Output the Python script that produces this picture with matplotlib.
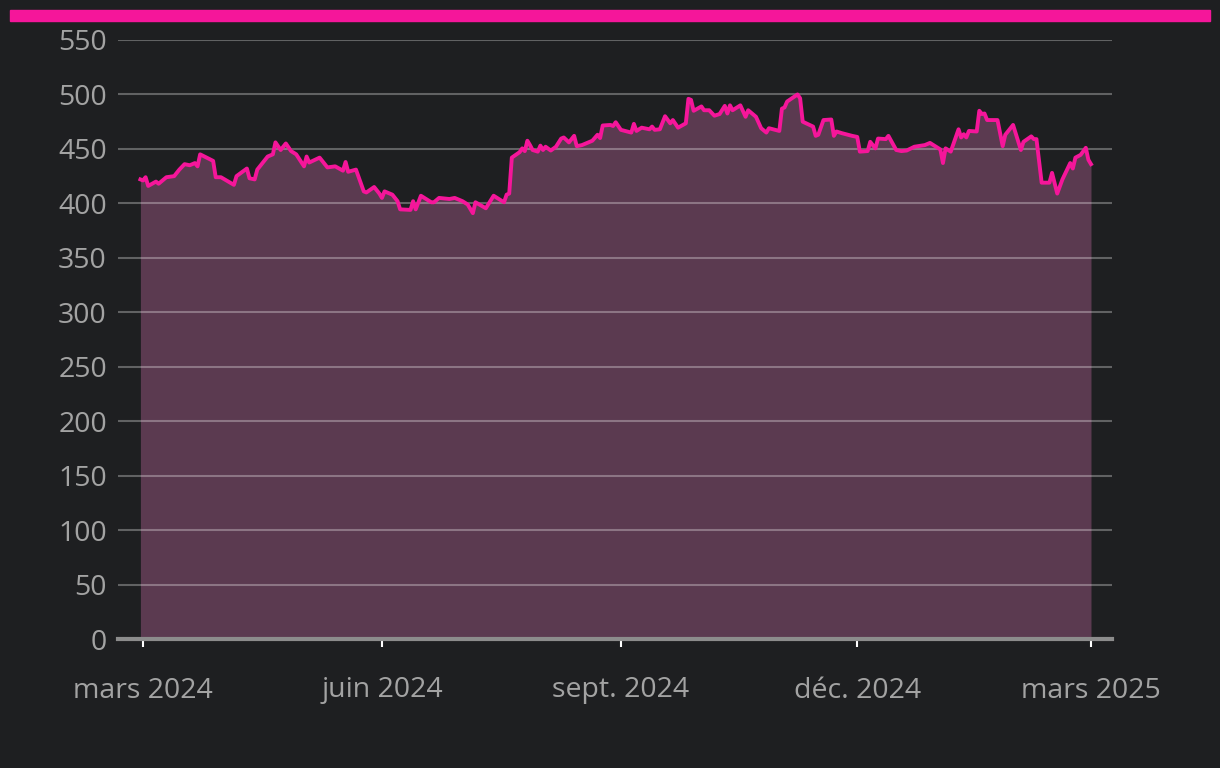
import matplotlib
matplotlib.use("Agg")
import matplotlib.pyplot as plt
import matplotlib.dates as mdates
from matplotlib.patches import Rectangle
import pandas as pd

# lecture approximative du graphique de référence
dates = [
    "2024-02-29", "2024-03-01", "2024-03-02", "2024-03-03", "2024-03-06", "2024-03-07",
    "2024-03-10", "2024-03-13", "2024-03-15", "2024-03-17", "2024-03-19", "2024-03-21",
    "2024-03-22", "2024-03-23", "2024-03-28", "2024-03-29", "2024-03-31", "2024-04-05",
    "2024-04-06", "2024-04-10", "2024-04-11", "2024-04-13", "2024-04-14", "2024-04-18",
    "2024-04-20", "2024-04-21", "2024-04-23", "2024-04-25", "2024-04-27", "2024-04-29",
    "2024-05-02", "2024-05-03", "2024-05-04", "2024-05-08", "2024-05-11", "2024-05-14",
    "2024-05-17", "2024-05-18", "2024-05-19", "2024-05-22", "2024-05-25", "2024-05-26",
    "2024-05-29", "2024-05-31", "2024-06-01", "2024-06-02", "2024-06-05", "2024-06-07",
    "2024-06-08", "2024-06-12", "2024-06-13", "2024-06-14", "2024-06-16", "2024-06-20",
    "2024-06-21", "2024-06-23", "2024-06-27", "2024-06-29", "2024-07-02", "2024-07-04",
    "2024-07-06", "2024-07-07", "2024-07-11", "2024-07-14", "2024-07-18", "2024-07-19",
    "2024-07-20", "2024-07-21", "2024-07-24", "2024-07-25", "2024-07-26", "2024-07-27",
    "2024-07-28", "2024-07-29", "2024-07-31", "2024-08-01", "2024-08-02", "2024-08-03",
    "2024-08-05", "2024-08-07", "2024-08-09", "2024-08-10", "2024-08-12", "2024-08-14",
    "2024-08-15", "2024-08-17", "2024-08-21", "2024-08-23", "2024-08-24", "2024-08-25",
    "2024-08-28", "2024-08-29", "2024-08-30", "2024-09-01", "2024-09-05", "2024-09-06",
    "2024-09-07", "2024-09-09", "2024-09-12", "2024-09-13", "2024-09-14", "2024-09-16",
    "2024-09-18", "2024-09-20", "2024-09-21", "2024-09-23", "2024-09-26", "2024-09-27",
    "2024-09-28", "2024-09-29", "2024-10-02", "2024-10-03", "2024-10-05", "2024-10-07",
    "2024-10-09", "2024-10-11", "2024-10-12", "2024-10-13", "2024-10-14", "2024-10-17",
    "2024-10-19", "2024-10-20", "2024-10-23", "2024-10-25", "2024-10-27", "2024-10-28",
    "2024-11-01", "2024-11-02", "2024-11-03", "2024-11-04", "2024-11-08", "2024-11-09",
    "2024-11-10", "2024-11-14", "2024-11-15", "2024-11-16", "2024-11-18", "2024-11-21",
    "2024-11-22", "2024-11-23", "2024-11-25", "2024-11-29", "2024-12-01", "2024-12-02",
    "2024-12-05", "2024-12-06", "2024-12-08", "2024-12-09", "2024-12-12", "2024-12-13",
    "2024-12-16", "2024-12-18", "2024-12-20", "2024-12-23", "2024-12-27", "2024-12-29",
    "2025-01-02", "2025-01-03", "2025-01-04", "2025-01-06", "2025-01-09", "2025-01-10",
    "2025-01-11", "2025-01-12", "2025-01-13", "2025-01-16", "2025-01-17", "2025-01-18",
    "2025-01-19", "2025-01-20", "2025-01-24", "2025-01-26", "2025-01-27", "2025-01-30",
    "2025-02-02", "2025-02-03", "2025-02-06", "2025-02-07", "2025-02-08", "2025-02-10",
    "2025-02-13", "2025-02-14", "2025-02-16", "2025-02-18", "2025-02-21", "2025-02-22",
    "2025-02-23", "2025-02-25", "2025-02-27", "2025-02-28", "2025-03-01",
]
values = [
    422, 421, 424, 416, 420, 418,
    424, 425, 431, 436, 435, 437,
    434, 445, 439, 424, 424, 417,
    425, 432, 423, 422, 431, 443,
    445, 456, 449, 455, 448, 445,
    434, 443, 437.5, 442, 433, 434,
    430, 438, 429, 431, 411, 410,
    415, 409, 405, 411, 408, 402,
    394.5, 394, 402, 394.5, 407, 401,
    401, 405, 404, 405, 402, 399,
    391, 401, 395.5, 407, 401, 408,
    409, 442, 447, 450.5, 448, 457.5,
    453.5, 449, 447.5, 453, 449, 452,
    448.5, 452, 459.5, 460.5, 456, 462,
    452.5, 453.5, 457.5, 463, 460, 471.5,
    472, 471, 474.5, 467.5, 465, 473,
    466.5, 469.5, 468, 470.5, 467.5, 468,
    480, 473.5, 476.5, 469.5, 473.5, 496,
    495, 485, 489, 485.5, 485.5, 480.5,
    482, 489.5, 482.5, 490, 485.5, 490,
    479.5, 485.5, 479.5, 469, 465, 469,
    466.5, 487, 488, 493.5, 500, 496.5,
    475, 470.5, 462, 463, 476.5, 477,
    462, 466, 464.5, 462, 461, 447.5,
    448, 456.5, 450.5, 459.5, 459, 462,
    449, 448, 448.5, 452, 453.5, 455.5,
    449.5, 437, 450.5, 447.5, 468, 460.5,
    463.5, 460.5, 466.5, 466, 485, 482,
    482.5, 476.5, 476.5, 452.5, 463, 472,
    449, 456.5, 461.5, 459, 459, 419,
    419, 428, 409, 422, 437, 432,
    442, 444.5, 451, 440, 436,
]

tick_dates = ["2024-03-01", "2024-06-01", "2024-09-01", "2024-12-01", "2025-03-01"]
tick_labels = ["mars 2024", "juin 2024", "sept. 2024", "déc. 2024", "mars 2025"]
y_ticks = [0, 50, 100, 150, 200, 250, 300, 350, 400, 450, 500, 550]

BG = "#1e1f21"
PINK = "#f5169a"
FILL = "#5b3a50"
TXT = "#a3a3a3"

plt.rcParams['font.family'] = ['Open Sans', 'DejaVu Sans']

x = pd.to_datetime(dates)

fig = plt.figure(figsize=(12.2, 7.68), dpi=100, facecolor=BG)
ax = fig.add_axes([118 / 1220, 129 / 768, 994 / 1220, 599 / 768])
ax.set_facecolor(BG)

# bandeau rose en haut
fig.patches.append(Rectangle((10 / 1220, 747 / 768), 1200 / 1220, 11 / 768,
                             transform=fig.transFigure, color=PINK, zorder=5))

ax.fill_between(x, values, 0, color=FILL, zorder=1, linewidth=0)
ax.plot(x, values, color=PINK, linewidth=2.8, zorder=3)

for yv in y_ticks[1:]:
    ax.axhline(yv, color="white", alpha=0.3, linewidth=1.5, zorder=2)

ax.set_ylim(0, 550)
x0 = mdates.date2num(pd.Timestamp("2024-03-01"))
x1 = mdates.date2num(pd.Timestamp("2025-03-01"))
ppd = (1091 - 143) / (x1 - x0)
ax.set_xlim(x0 - 25 / ppd, x1 + 21 / ppd)

ax.set_yticks(y_ticks)
ax.set_yticklabels([str(v) for v in y_ticks])
ax.set_xticks(pd.to_datetime(tick_dates))
ax.set_xticklabels(tick_labels)

for s in ["top", "right", "left"]:
    ax.spines[s].set_visible(False)
ax.spines["bottom"].set_color("#8c8c8c")
ax.spines["bottom"].set_linewidth(3)
ax.spines["bottom"].set_zorder(4)

ax.tick_params(axis="y", length=0, pad=8, labelsize=20.5, labelcolor=TXT)
ax.tick_params(axis="x", length=6, width=1.5, color="white", direction="out",
               pad=21, labelsize=20.5, labelcolor=TXT)

fig.savefig("out.png", dpi=100, facecolor=BG)
